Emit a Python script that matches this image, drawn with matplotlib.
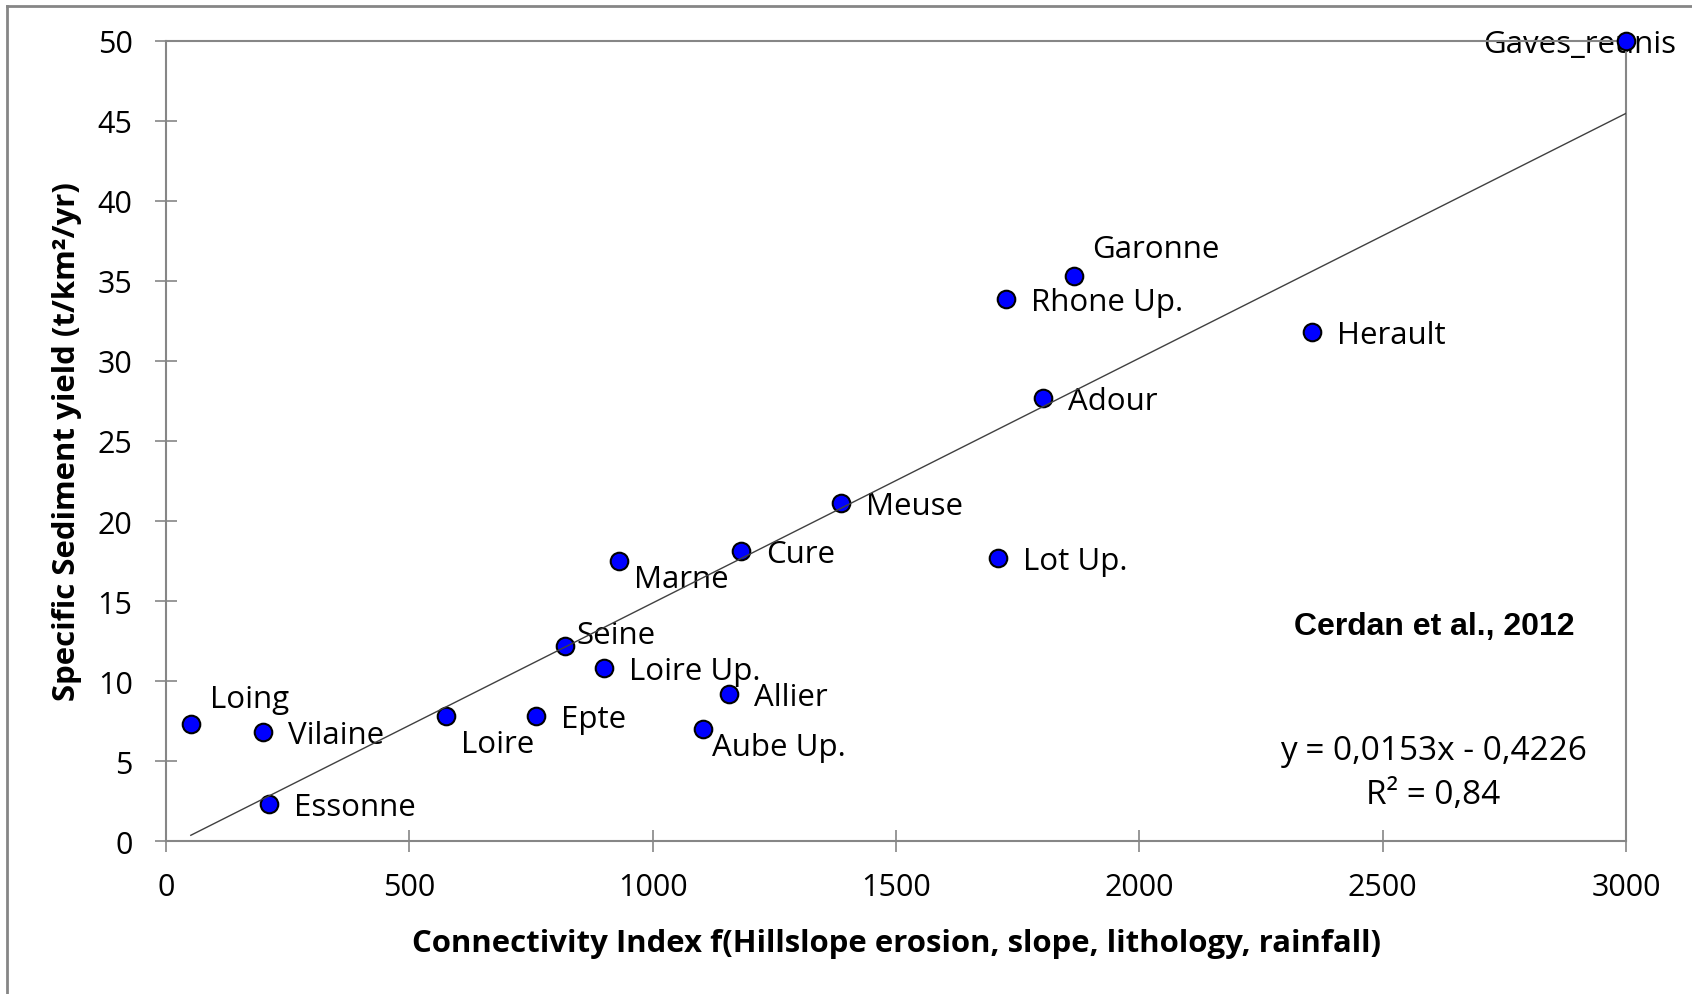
import matplotlib.pyplot as plt
import numpy as np
from matplotlib.lines import Line2D

# catchments: connectivity index vs specific sediment yield
names = ['Gaves_reunis', 'Garonne', 'Rhone Up.', 'Herault', 'Adour', 'Meuse', 'Lot Up.',
         'Cure', 'Marne', 'Seine', 'Loire Up.', 'Allier', 'Aube Up.', 'Epte', 'Loire',
         'Loing', 'Vilaine', 'Essonne']
conn_index = [3000, 1865, 1727, 2355, 1803, 1386, 1710,
              1182, 931, 820, 900, 1157, 1104, 760, 576,
              51, 200, 211]
sed_yield = [50.0, 35.3, 33.9, 31.8, 27.7, 21.1, 17.7,
             18.1, 17.5, 12.2, 10.8, 9.2, 7.0, 7.8, 7.8,
             7.3, 6.8, 2.3]

# label offsets in pixels (dx, dy)
offsets = {'Gaves_reunis': (-143, -3), 'Garonne': (18, 27), 'Marne': (15, -18),
           'Seine': (11, 11), 'Aube Up.': (9, -18), 'Loire': (15, -28), 'Loing': (19, 25)}

slope, intercept = 0.0153, -0.4226

fig = plt.figure(figsize=(16.92, 9.95), dpi=100)
ax = fig.add_axes([166 / 1692, 1 - 842 / 995, 1460 / 1692, 800 / 995])

gray = '#868686'
font = 'Open Sans'

ax.scatter(conn_index, sed_yield, s=160, c='#0000ff', edgecolors='black', linewidths=1.5,
           zorder=3, clip_on=False)

for name, x, y in zip(names, conn_index, sed_yield):
    dx, dy = offsets.get(name, (25, -3))
    ax.annotate(name, (x, y), xytext=(dx, dy), textcoords='offset pixels',
                ha='left', va='center', fontsize=22.5, family=font, zorder=2,
                annotation_clip=False)

xfit = np.array([min(conn_index), max(conn_index)])
ax.plot(xfit, slope * xfit + intercept, color='#404040', lw=1.0, zorder=4)

ax.set_xlim(0, 3000)
ax.set_ylim(0, 50)
ax.set_xticks(range(0, 3001, 500))
ax.set_yticks(range(0, 51, 5))
for sp in ax.spines.values():
    sp.set_color(gray)
    sp.set_linewidth(1.5)
ax.tick_params(direction='inout', length=16, width=1.2, color=gray, labelsize=22)
ax.tick_params(axis='y', pad=16)
ax.tick_params(axis='x', pad=14)
for lab in ax.get_xticklabels() + ax.get_yticklabels():
    lab.set_family(font)

ax.set_xlabel('Connectivity Index f(Hillslope erosion, slope, lithology, rainfall)',
              fontsize=22.4, fontweight='bold', family=font)
ax.set_ylabel('Specific Sediment yield (t/km²/yr)', fontsize=22.4, fontweight='bold', family=font)
ax.xaxis.set_label_coords(0.5, -0.1275)
ax.xaxis.label.set_va('center')
ax.yaxis.set_label_coords(-0.0678, 0.5)
ax.yaxis.label.set_va('center')

ax.text(0.869, 0.269, 'Cerdan et al., 2012', transform=ax.transAxes, ha='center', va='center',
        fontsize=23, fontweight='bold', family='Liberation Sans')
ax.text(0.868, 0.1125, 'y = 0,0153x - 0,4226', transform=ax.transAxes, ha='center', va='center',
        fontsize=24, family=font)
ax.text(0.868, 0.0575, 'R² = 0,84', transform=ax.transAxes, ha='center', va='center',
        fontsize=24, family=font)

# outer chart frame (left and top edges visible)
fig.add_artist(Line2D([7 / 1692, 7 / 1692], [0, 1 - 7 / 995], transform=fig.transFigure,
                      color=gray, lw=2))
fig.add_artist(Line2D([7 / 1692, 1], [1 - 7 / 995, 1 - 7 / 995], transform=fig.transFigure,
                      color=gray, lw=2))

fig.savefig('out.png', dpi=100)
